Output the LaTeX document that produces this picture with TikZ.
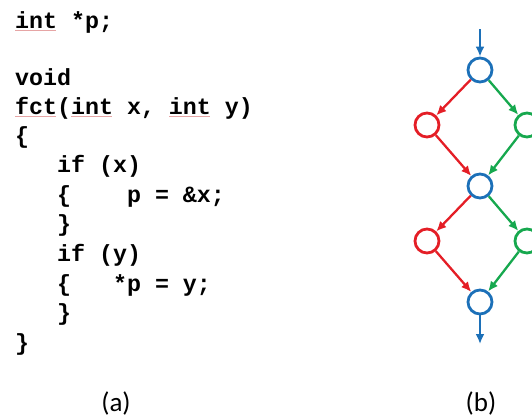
\documentclass[tikz,border=0pt]{standalone}
\usepackage{fontspec}
\setmonofont{Liberation Mono}
\newfontfamily\labfont{Carlito}
\usetikzlibrary{arrows.meta}
\definecolor{cblue}{RGB}{28,112,184}
\definecolor{cred}{RGB}{228,30,38}
\definecolor{cgreen}{RGB}{22,168,78}
\definecolor{squig}{RGB}{230,165,165}
\begin{document}
\begin{tikzpicture}[x=1pt,y=-1pt,
  codeline/.style={anchor=base west,inner sep=0pt,font=\ttfamily\bfseries\fontsize{23.3}{29}\selectfont},
  lab/.style={anchor=base,inner sep=0pt,font=\labfont\fontsize{27}{30}\selectfont},
  blk/.style={circle,draw=#1,line width=2.8pt,minimum size=24pt,inner sep=0pt},
  edge/.style={draw=#1,line width=2.3pt,-{Latex[length=10pt,width=9pt]}},
  ul/.style={draw=squig,line width=0.9pt}]
\useasboundingbox (0,0) rectangle (532,418);
% code
\node[codeline] (c1) at (15,28) {int *p;};
\node[codeline] (c2) at (15,85) {void};
\node[codeline] (c3) at (15,114) {fct(int x, int y)};
\node[codeline] (c4) at (15,143) {\{};
\node[codeline] (c5) at (15,172) {\ \ \ if (x)};
\node[codeline] (c6) at (15,202) {\ \ \ \{\ \ \ \ p = \&x;};
\node[codeline] (c7) at (15,231) {\ \ \ \}};
\node[codeline] (c8) at (15,261) {\ \ \ if (y)};
\node[codeline] (c9) at (15,291) {\ \ \ \{\ \ \ *p = y;};
\node[codeline] (c10) at (15,320) {\ \ \ \}};
\node[codeline] (c11) at (15,350) {\}};
% spell-check underlines
\draw[ul] (15,30.5) -- (56,30.5);
\draw[ul] (15,116.5) -- (56,116.5);
\draw[ul] (71,116.5) -- (112,116.5);
\draw[ul] (169,116.5) -- (210,116.5);
% labels
\node[lab] (la) at (116,411) {(a)};
\node[lab] (lb) at (481,411) {(b)};
% graph
\coordinate (s) at (480,29);
\coordinate (e) at (480,344);
\node[blk=cblue] (T) at (480,70) {};
\node[blk=cred] (L1) at (427,125) {};
\node[blk=cgreen] (R1) at (527,125) {};
\node[blk=cblue] (M) at (480,186) {};
\node[blk=cred] (L2) at (427,241) {};
\node[blk=cgreen] (R2) at (527,241) {};
\node[blk=cblue] (B) at (480,302) {};
\draw[edge=cblue] (s) -- (T);
\draw[edge=cred] (T) -- (L1);
\draw[edge=cgreen] (T) -- (R1);
\draw[edge=cred] (L1) -- (M);
\draw[edge=cgreen] (R1) -- (M);
\draw[edge=cred] (M) -- (L2);
\draw[edge=cgreen] (M) -- (R2);
\draw[edge=cred] (L2) -- (B);
\draw[edge=cgreen] (R2) -- (B);
\draw[edge=cblue] (B) -- (e);
\end{tikzpicture}
\end{document}
